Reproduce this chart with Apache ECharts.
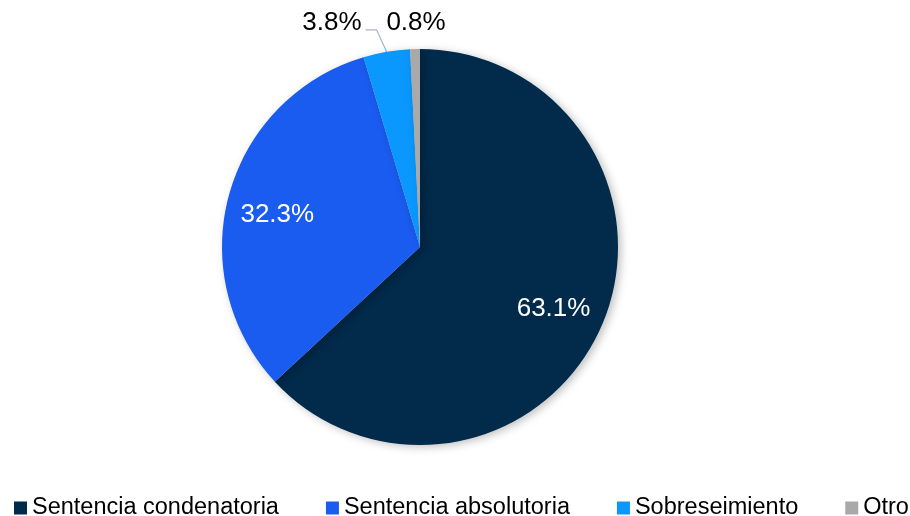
<!DOCTYPE html>
<html>
<head>
<meta charset="utf-8">
<script src="https://cdn.jsdelivr.net/npm/echarts@6/dist/echarts.min.js"></script>
<style>
  html, body { margin: 0; padding: 0; background: #fff; }
  #chart { width: 910px; height: 516px; }
</style>
</head>
<body>
<div id="chart"></div>
<script>
var categories = ['Sentencia condenatoria', 'Sentencia absolutoria', 'Sobreseimiento', 'Otro'];
var values = [63.1, 32.3, 3.8, 0.8];
var colors = ['#022a4b', '#1a5cf0', '#0b98fe', '#a9a9a9'];

var cx = 420, cy = 247, r = 198;

var dom = document.getElementById('chart');
var myChart = echarts.init(dom);

var total = values.reduce(function(a, b) { return a + b; }, 0);

// point on the rim at the middle of slice i (clockwise from 12 o'clock)
function rimPoint(i) {
	var before = 0;
	for (var k = 0; k < i; k++) before += values[k];
	var a = (before + values[i] / 2) / total * Math.PI * 2;
	return [cx + r * Math.sin(a), cy - r * Math.cos(a)];
}

var data = categories.map(function(name, i) {
	return { name: name, value: values[i], itemStyle: { color: colors[i] } };
});

// big slices: labels drawn inside by a ghost ring so they sit at ~0.74r
var ghost = data.map(function(d, i) {
	return {
		name: d.name,
		value: d.value,
		itemStyle: { color: 'rgba(0,0,0,0)' },
		label: { show: i < 2 }
	};
});

var option = {
	animation: false,
	legend: {
		top: 491,
		left: 9,
		width: 905,
		icon: 'rect',
		itemWidth: 13,
		itemHeight: 13,
		itemGap: 47,
		textStyle: {
			fontFamily: 'Liberation Sans',
			fontSize: 23.5,
			color: '#000'
		},
		data: categories
	},
	series: [{
		name: 'main',
		type: 'pie',
		center: [cx, cy],
		radius: [0, r],
		startAngle: 90,
		clockwise: true,
		data: data.map(function(d, i) {
			return Object.assign({}, d, {
				label: { show: i >= 2 },
				labelLine: { show: i === 2 }
			});
		}),
		itemStyle: {
			shadowBlur: 8,
			shadowOffsetX: 3,
			shadowOffsetY: 2,
			shadowColor: 'rgba(0,0,0,0.25)'
		},
		label: {
			position: 'outside',
			formatter: function(p) { return p.value.toFixed(1) + '%'; },
			fontFamily: 'Liberation Sans',
			fontSize: 26,
			color: '#000'
		},
		labelLine: {
			lineStyle: { color: '#a6b4c8', width: 1.2 }
		},
		labelLayout: function(params) {
			var p0 = rimPoint(params.dataIndex);
			if (params.dataIndex === 2) {
				var p1 = [p0[0] - 10, p0[1] - 22];
				var p2 = [p1[0] - 11, p1[1]];
				return {
					x: p2[0] - 4,
					y: p1[1] - 7,
					align: 'right',
					verticalAlign: 'middle',
					labelLinePoints: [p0, p1, p2]
				};
			}
			if (params.dataIndex === 3) {
				return {
					x: p0[0] + 1,
					y: p0[1] - 26,
					align: 'center',
					verticalAlign: 'middle'
				};
			}
		}
	}, {
		name: 'labels',
		type: 'pie',
		silent: true,
		center: [cx, cy],
		radius: [94, r],
		startAngle: 90,
		clockwise: true,
		data: ghost,
		label: {
			position: 'inside',
			formatter: function(p) { return p.value.toFixed(1) + '%'; },
			fontFamily: 'Liberation Sans',
			fontSize: 26,
			color: '#fff'
		},
		labelLine: { show: false },
		labelLayout: function(params) {
			if (params.dataIndex === 0) return { dx: -3, dy: 2 };
			if (params.dataIndex === 1) return { dx: 1, dy: 7 };
		}
	}]
};

myChart.setOption(option);
</script>
</body>
</html>
